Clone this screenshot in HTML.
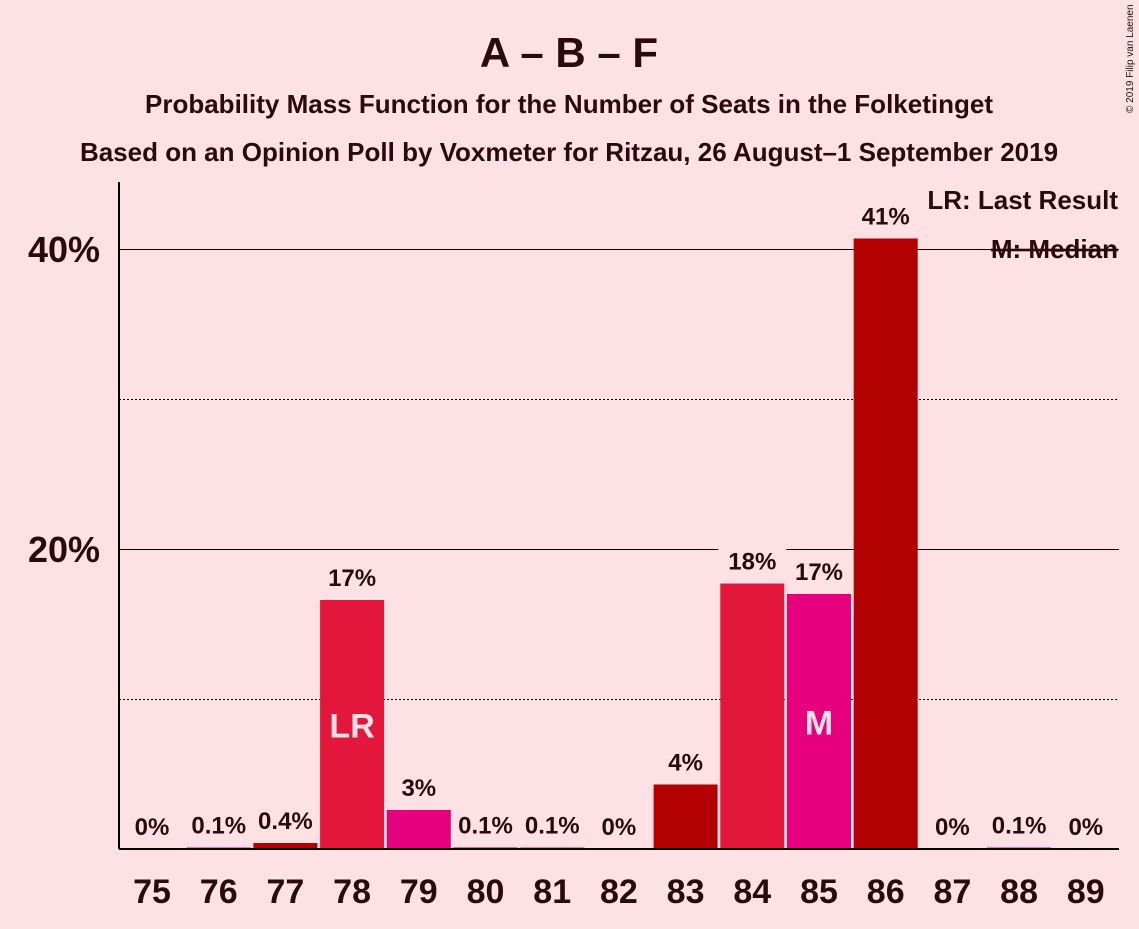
<!DOCTYPE html>
<html><head><meta charset="utf-8"><style>
body{margin:0;background:#fde1e5;font-family:"Liberation Sans",sans-serif;}
svg text{font-family:"Liberation Sans",sans-serif;fill:#2a0a0f;}
</style></head><body>
<svg id="c" width="1139" height="924">
<rect width="1139" height="924" fill="#fde1e5"/>
<text x="569" y="67" text-anchor="middle" font-size="42" font-weight="bold">A – B – F</text>
<text x="569" y="113" text-anchor="middle" font-size="26" font-weight="bold">Probability Mass Function for the Number of Seats in the Folketinget</text>
<text x="569" y="161" text-anchor="middle" font-size="26" font-weight="bold">Based on an Opinion Poll by Voxmeter for Ritzau, 26 August–1 September 2019</text>
<text x="1133" y="113" font-size="10" transform="rotate(-90 1133 113)">© 2019 Filip van Laenen</text>
<g id="grid"></g>
<g id="bars"></g>
<line x1="119" y1="182" x2="119" y2="849" stroke="#000" stroke-width="2"/>
<line x1="119" y1="849" x2="1119" y2="849" stroke="#000" stroke-width="2"/>
<text x="1118" y="209" text-anchor="end" font-size="26" font-weight="bold">LR: Last Result</text>
<text x="1118" y="258" text-anchor="end" font-size="26" font-weight="bold" text-decoration="line-through">M: Median</text>
</svg>
<script>
const seats=[75,76,77,78,79,80,81,82,83,84,85,86,87,88,89];
const probs=[0,0.1,0.4,16.6,2.6,0.1,0.1,0,4.3,17.7,17.0,40.7,0,0.1,0];
const labels=["0%","0.1%","0.4%","17%","3%","0.1%","0.1%","0%","4%","18%","17%","41%","0%","0.1%","0%"];
const yTicks=[10,20,30,40];
const yTickLabels={20:"20%",40:"40%"};
const lastResult=78, median=85;
const colors=["#b30000","#e3163c","#e6007e"];
const NS="http://www.w3.org/2000/svg";
const y=v=>849-v*15;
const x=s=>152+(s-75)*66.7;
const grid=document.getElementById('grid'),bars=document.getElementById('bars');
function mk(tag,at,parent){const e=document.createElementNS(NS,tag);for(const k in at)e.setAttribute(k,at[k]);parent.appendChild(e);return e;}
yTicks.forEach(t=>{
  const l=mk('line',{x1:119,x2:1119,y1:y(t)+0.5,y2:y(t)+0.5,stroke:'#000','stroke-width':1,'stroke-dasharray':t%20?'2,2':''},grid);
  
  
  if(yTickLabels[t]){const tx=mk('text',{x:100,y:y(t)+13,'text-anchor':'end','font-size':36,'font-weight':'bold'},grid);tx.textContent=yTickLabels[t];
  
  }
});
seats.forEach((s,i)=>{
  const cx=x(s),v=probs[i];
  if(v>0){const r=mk('rect',{x:cx-32,y:y(v),width:64,height:849-y(v),fill:colors[(s-77+30)%3]},bars);
  
  }
  const bg=mk('rect',{x:cx-34,y:y(v)-38,width:68,height:30,fill:'#fde1e5'},bars);
  
  
  const t=mk('text',{x:cx,y:y(v)-14,'text-anchor':'middle','font-size':24,'font-weight':'bold'},bars);t.textContent=labels[i];
  
  
  const xt=mk('text',{x:cx,y:903,'text-anchor':'middle','font-size':34,'font-weight':'bold'},bars);xt.textContent=s;
  
  
  if(s===lastResult||s===median){const m=mk('text',{x:cx,y:y(v/2)+13,'text-anchor':'middle','font-size':34,'font-weight':'bold',style:'fill:#fde1e5'},bars);m.textContent=s===lastResult?'LR':'M';
  
  }
});
</script>
</body></html>
